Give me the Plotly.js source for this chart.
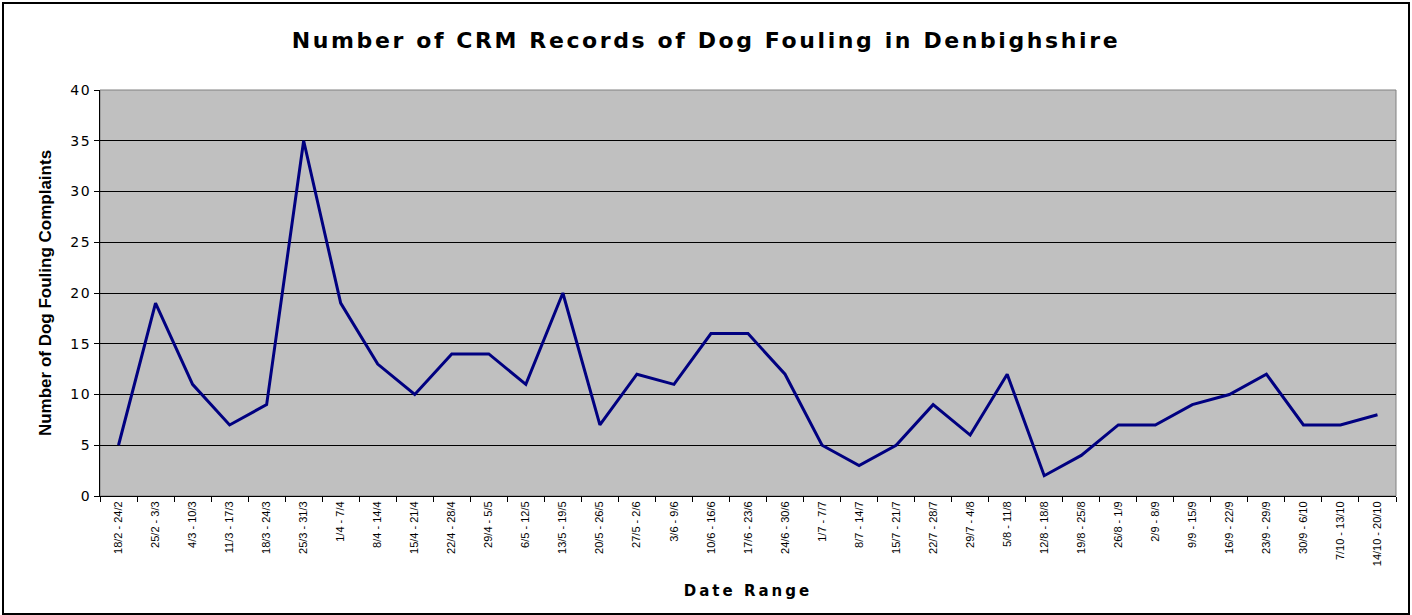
<!DOCTYPE html>
<html>
<head>
<meta charset="utf-8">
<script src="https://cdn.plot.ly/plotly-3.0.1.min.js"></script>
<style>
  html, body { margin: 0; padding: 0; background: #fff; }
  #wrap { position: relative; width: 1412px; height: 615px; }
  #chart { width: 1412px; height: 615px; }
  #frame { position: absolute; left: 2px; top: 2px; width: 1404px; height: 609px; border: 2px solid #000; pointer-events: none; }
  #chart .gtitle { letter-spacing: 2.6px; }
  #chart .xtitle { letter-spacing: 3px; }
  #chart .ytick text { letter-spacing: 1.5px; }
</style>
</head>
<body>
<div id="wrap"><div id="chart"></div><div id="frame"></div></div>
<script>
const dateRanges = [
  "18/2 - 24/2", "25/2 - 3/3", "4/3 - 10/3", "11/3 - 17/3", "18/3 - 24/3",
  "25/3 - 31/3", "1/4 - 7/4", "8/4 - 14/4", "15/4 - 21/4", "22/4 - 28/4",
  "29/4 - 5/5", "6/5 - 12/5", "13/5 - 19/5", "20/5 - 26/5", "27/5 - 2/6",
  "3/6 - 9/6", "10/6 - 16/6", "17/6 - 23/6", "24/6 - 30/6", "1/7 - 7/7",
  "8/7 - 14/7", "15/7 - 21/7", "22/7 - 28/7", "29/7 - 4/8", "5/8 - 11/8",
  "12/8 - 18/8", "19/8 - 25/8", "26/8 - 1/9", "2/9 - 8/9", "9/9 - 15/9",
  "16/9 - 22/9", "23/9 - 29/9", "30/9 - 6/10", "7/10 - 13/10", "14/10 - 20/10"
];
const complaints = [
  5, 19, 11, 7, 9,
  35, 19, 13, 10, 14,
  14, 11, 20, 7, 12,
  11, 16, 16, 12, 5,
  3, 5, 9, 6, 12,
  2, 4, 7, 7, 9,
  10, 12, 7, 7, 8
];
const yTicks = [0, 5, 10, 15, 20, 25, 30, 35, 40];

const trace = {
  type: "scatter",
  mode: "lines",
  x: dateRanges,
  y: complaints,
  line: { color: "#000080", width: 3 },
  hoverinfo: "x+y"
};

const layout = {
  width: 1412,
  height: 615,
  margin: { l: 100, r: 16, t: 90, b: 119 },
  paper_bgcolor: "#ffffff",
  plot_bgcolor: "#c0c0c0",
  showlegend: false,
  font: { family: "Liberation Sans, Arial, sans-serif", color: "#000" },
  title: {
    text: "<b>Number of CRM Records of Dog Fouling in Denbighshire</b>",
    font: { size: 22, family: "DejaVu Sans, Liberation Sans, Arial, sans-serif", color: "#000" },
    x: 0.5, xref: "container", xanchor: "center",
    y: 1 - 40 / 615, yref: "container", yanchor: "middle"
  },
  xaxis: {
    type: "category",
    tickmode: "array",
    tickvals: dateRanges,
    ticktext: dateRanges,
    tickson: "boundaries",
    tickangle: -90,
    ticks: "outside",
    ticklen: 5,
    tickcolor: "#000",
    tickfont: { size: 11, family: "Liberation Sans Narrow, Arial Narrow, Liberation Sans, sans-serif" },
    showline: true,
    linecolor: "#000",
    linewidth: 1,
    showgrid: false,
    zeroline: false,
    automargin: false,
    range: [-0.5, dateRanges.length - 0.5],
    title: {
      text: "<b>Date Range</b>",
      font: { size: 15, family: "DejaVu Sans, Liberation Sans, Arial, sans-serif" },
      standoff: 20
    }
  },
  yaxis: {
    range: [0, 40],
    tickmode: "array",
    tickvals: yTicks,
    ticks: "outside",
    ticklen: 5,
    tickcolor: "#000",
    tickfont: { size: 14, family: "DejaVu Sans, Liberation Sans, Arial, sans-serif" },
    showline: true,
    linecolor: "#000",
    linewidth: 1,
    showgrid: true,
    gridcolor: "#000",
    gridwidth: 1,
    zeroline: false,
    automargin: false,
    title: {
      text: "<b>Number of Dog Fouling Complaints</b>",
      font: { size: 17, family: "Liberation Sans Narrow, Arial Narrow, Liberation Sans, sans-serif" },
      standoff: 17
    }
  },
  shapes: [{
    type: "rect", xref: "paper", yref: "paper",
    x0: 0, x1: 1, y0: 0, y1: 1,
    line: { color: "#808080", width: 1 },
    layer: "below"
  }]
};

Plotly.newPlot("chart", [trace], layout, { displayModeBar: false, staticPlot: true });
</script>
</body>
</html>
